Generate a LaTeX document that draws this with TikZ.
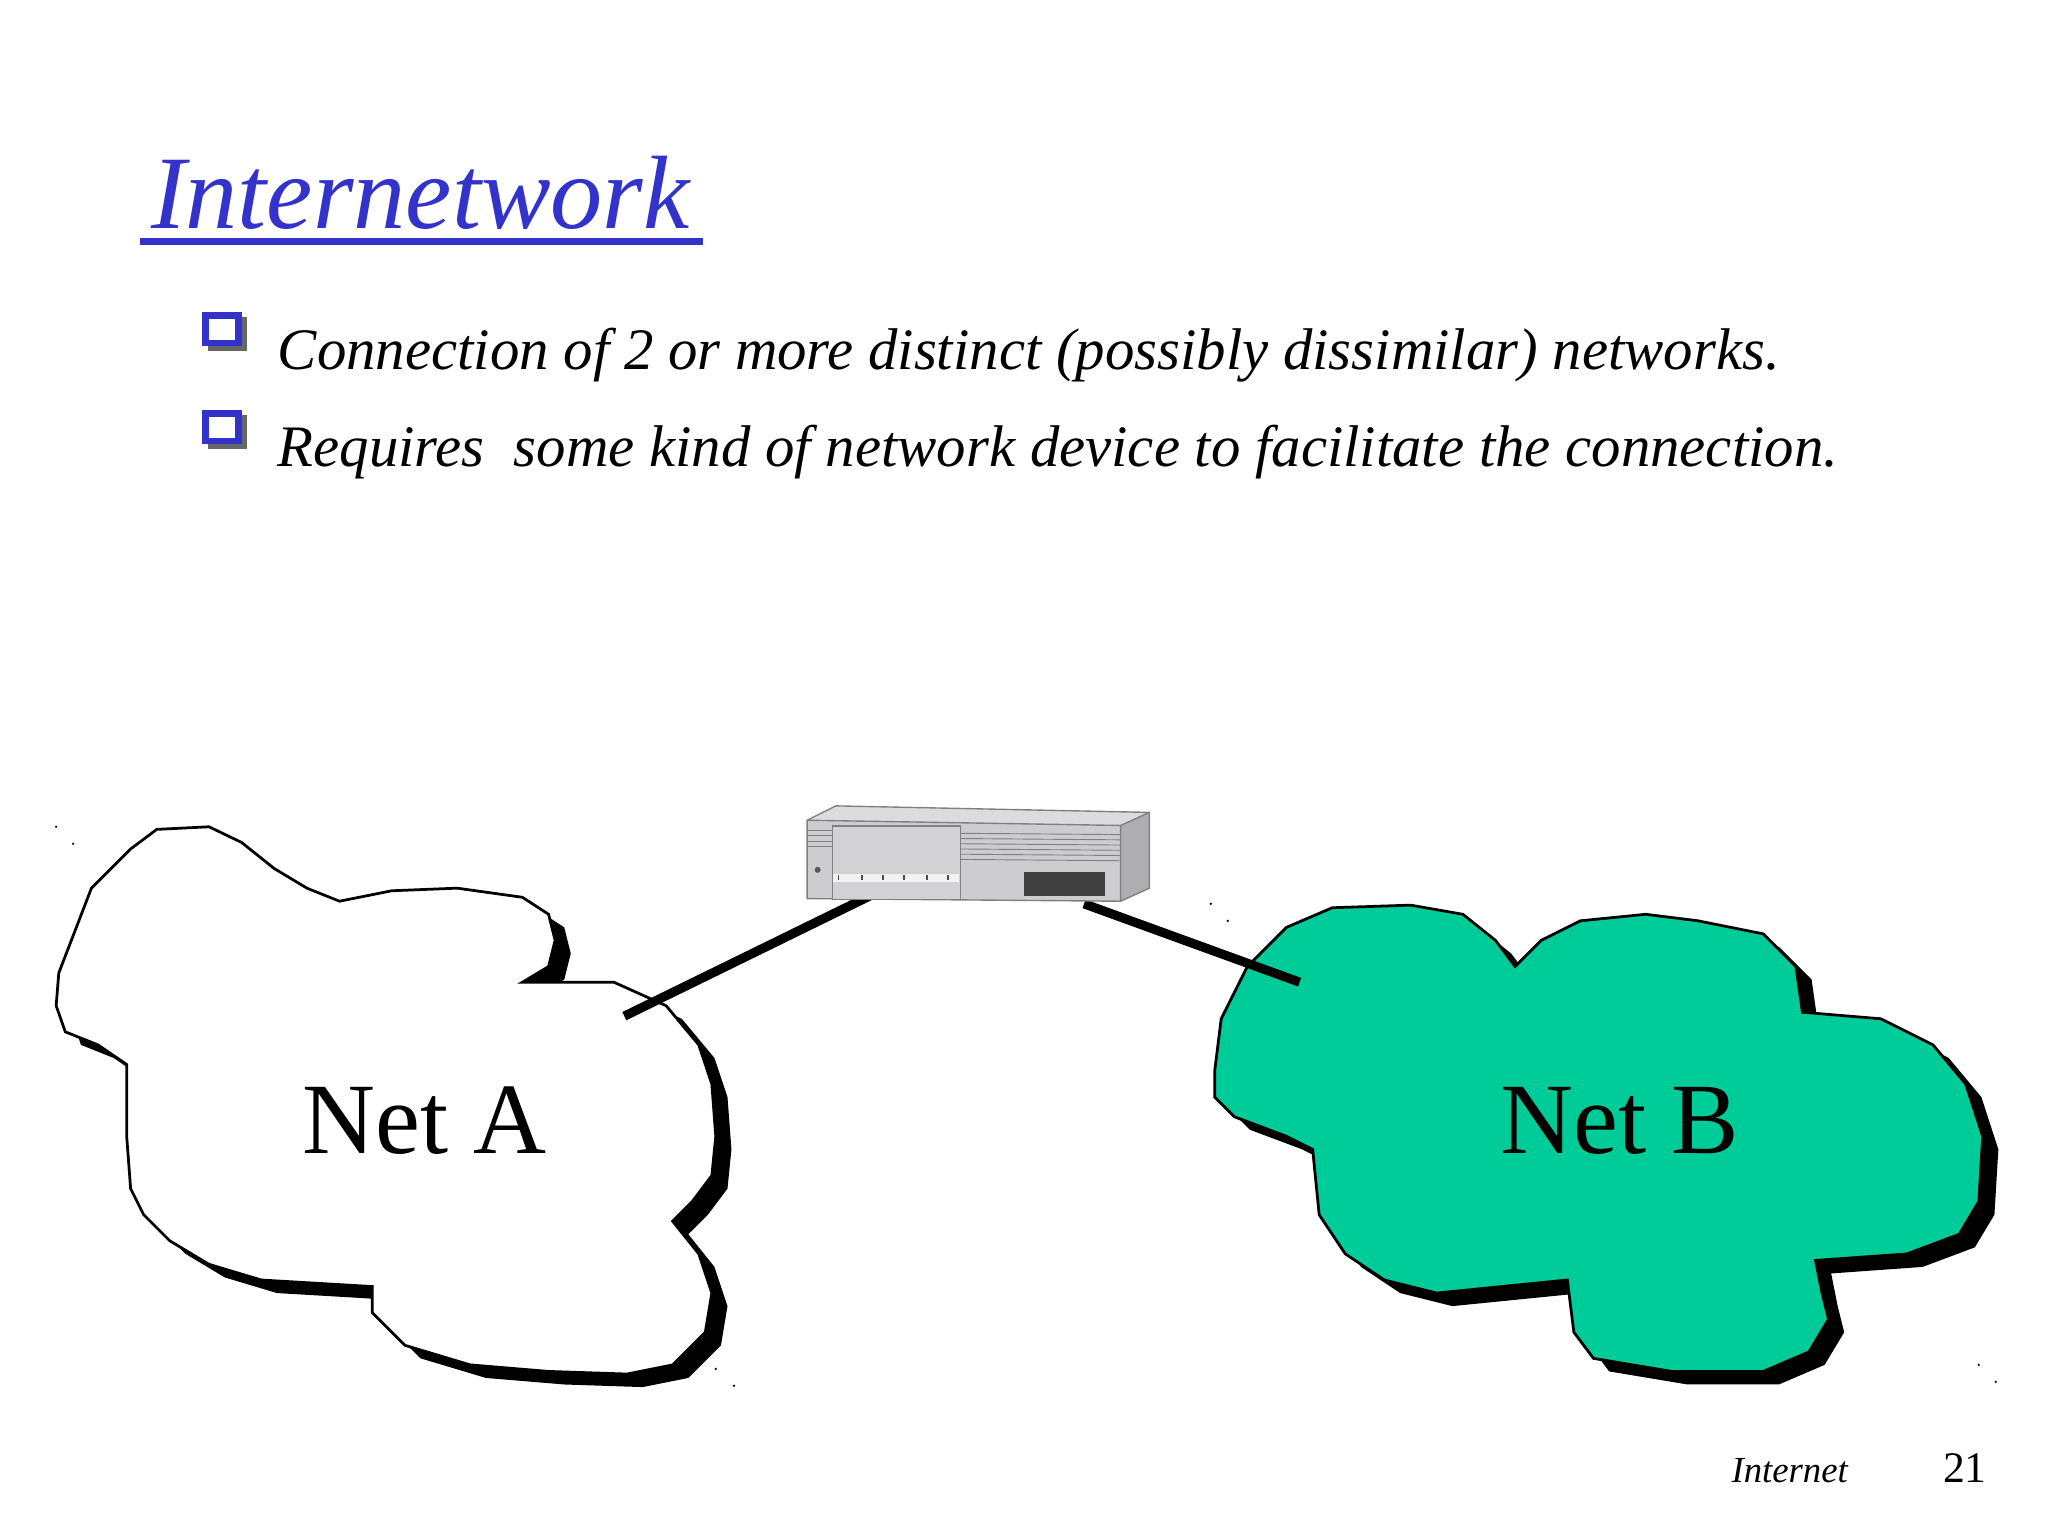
\documentclass[tikz,border=0pt]{standalone}
\usepackage{fontspec}
\setmainfont{Liberation Serif}
\begin{document}
\begin{tikzpicture}[x=0.01cm,y=-0.01cm,
  blue1/.style={color={rgb,255:red,51;green,51;blue,204}},
  bul/.style={anchor=base west,inner sep=0pt,font=\itshape\fontsize{12.8}{15}\selectfont},
  netlabel/.style={font=\fontsize{22}{26}\selectfont},
  cable/.style={line width=0.07cm},
  cloudline/.style={draw=black,line width=0.6pt}]
\definecolor{netb}{RGB}{0,204,153}
\definecolor{rgray}{RGB}{205,205,208}
\fill[white] (0,0) rectangle (1568,1176);
\useasboundingbox (0,0) rectangle (1568,1176);
% title
\node[blue1,anchor=base west,inner sep=0pt,font=\itshape\fontsize{22.7}{27}\selectfont] (title) at (115,175) {Internetwork};
\draw[blue1,line width=1.4pt] (107,185) -- (538,185);
% bullets
\foreach \yy/\nm in {255/b1,330/b2}{
  \fill[black!60] (159,\yy-12) rectangle (189,\yy+14);
  \fill[blue1] (155,\yy-16) rectangle (185,\yy+10);
  \fill[white] (160,\yy-11) rectangle (180,\yy+5);
}
\node[bul] (t1) at (212,283) {Connection of 2 or more distinct (possibly dissimilar) networks.};
\node[bul] (t2) at (212,357) {Requires\ \ some kind of network device to facilitate the connection.};
% Net A cloud
\def\cloudA{(45,745) -- (70,680) -- (100,650) -- (120,635) -- (160,633) -- (185,645) -- (210,665) -- (235,680) -- (260,690) -- (300,682) -- (350,680) -- (400,687) -- (420,700) -- (425,720) -- (420,740) -- (400,752) -- (470,752) -- (510,770) -- (535,800) -- (545,830) -- (548,870) -- (545,900) -- (530,920) -- (515,935) -- (535,960) -- (545,990) -- (540,1020) -- (515,1045) -- (480,1052) -- (420,1050) -- (360,1045) -- (310,1030) -- (285,1005) -- (285,985) -- (200,980) -- (160,968) -- (130,950) -- (110,930) -- (100,910) -- (97,870) -- (97,815) -- (75,800) -- (50,790) -- (43,770) -- cycle}
\fill[black,shift={(12,10)}] \cloudA;
\filldraw[fill=white,cloudline] \cloudA;
% Net B cloud
\def\cloudB{(930,820) -- (935,780) -- (955,740) -- (985,710) -- (1020,695) -- (1080,693) -- (1120,700) -- (1145,720) -- (1160,740) -- (1180,720) -- (1210,705) -- (1260,700) -- (1300,705) -- (1350,715) -- (1375,740) -- (1380,775) -- (1440,780) -- (1480,800) -- (1505,830) -- (1518,870) -- (1515,920) -- (1500,945) -- (1460,960) -- (1390,965) -- (1395,990) -- (1400,1010) -- (1385,1035) -- (1350,1050) -- (1280,1050) -- (1220,1040) -- (1205,1020) -- (1200,980) -- (1150,985) -- (1100,990) -- (1060,980) -- (1030,960) -- (1010,930) -- (1005,880) -- (985,870) -- (945,855) -- (930,840) -- cycle}
\fill[black,shift={(12,10)}] \cloudB;
\filldraw[fill=netb,cloudline] \cloudB;
\node[netlabel] (na) at (325,858) {Net A};
\node[netlabel] (nb) at (1240,858) {Net B};
% router
\coordinate (rl) at (672,683);
\coordinate (rr) at (830,692);
\coordinate (ca) at (478,778);
\coordinate (cb) at (995,752);
\draw[cable] (ca) -- (rl);
\draw[cable] (rr) -- (cb);
\fill[rgray!70!white] (618,628) -- (640,617) -- (880,622) -- (858,632) -- cycle;
\fill[rgray!85!black] (858,632) -- (880,622) -- (880,680) -- (858,690) -- cycle;
\fill[rgray] (618,628) -- (858,632) -- (858,690) -- (618,688) -- cycle;
\draw[gray,line width=0.3pt] (618,628) -- (640,617) -- (880,622) -- (880,680) -- (858,690) -- (618,688) -- cycle (618,628) -- (858,632) -- (880,622) (858,632) -- (858,690);
\node[draw=gray,fill=rgray!90!white,line width=0.3pt,inner sep=0pt,anchor=north west,minimum width=0.98cm,minimum height=0.56cm] (panel) at (637,632) {};
\foreach \yy in {636,640,644,648}{\draw[gray,line width=0.2pt] (618,\yy) -- (637,\yy);}
\foreach \yy in {638,642,646,650,654,658}{\draw[gray,line width=0.2pt] (735,\yy) -- (858,\yy+1);}
\fill[white!90!gray] (638,669) rectangle (734,675);
\foreach \xx in {642,660,676,692,710,726}{\draw[gray!60!black,line width=0.4pt] (\xx,670) -- (\xx,674);}
\fill[gray!70!black] (626,666) circle (2.3);
\node[fill=black!75,inner sep=0pt,anchor=north west,minimum width=0.62cm,minimum height=0.18cm] (floppy) at (783,667) {};
% corner dots
\foreach \p in {(43,633),(56,646),(927,692),(940,705),(548,1048),(562,1061),(1515,1045),(1528,1058)}{\fill[black] \p circle (1);}
% footer
\node[anchor=base west,inner sep=0pt,font=\itshape\fontsize{8}{10}\selectfont] (ft) at (1325,1135) {Internet};
\node[anchor=base west,inner sep=0pt,font=\fontsize{9.5}{11}\selectfont] (pg) at (1487,1135) {21};
\end{tikzpicture}
\end{document}
